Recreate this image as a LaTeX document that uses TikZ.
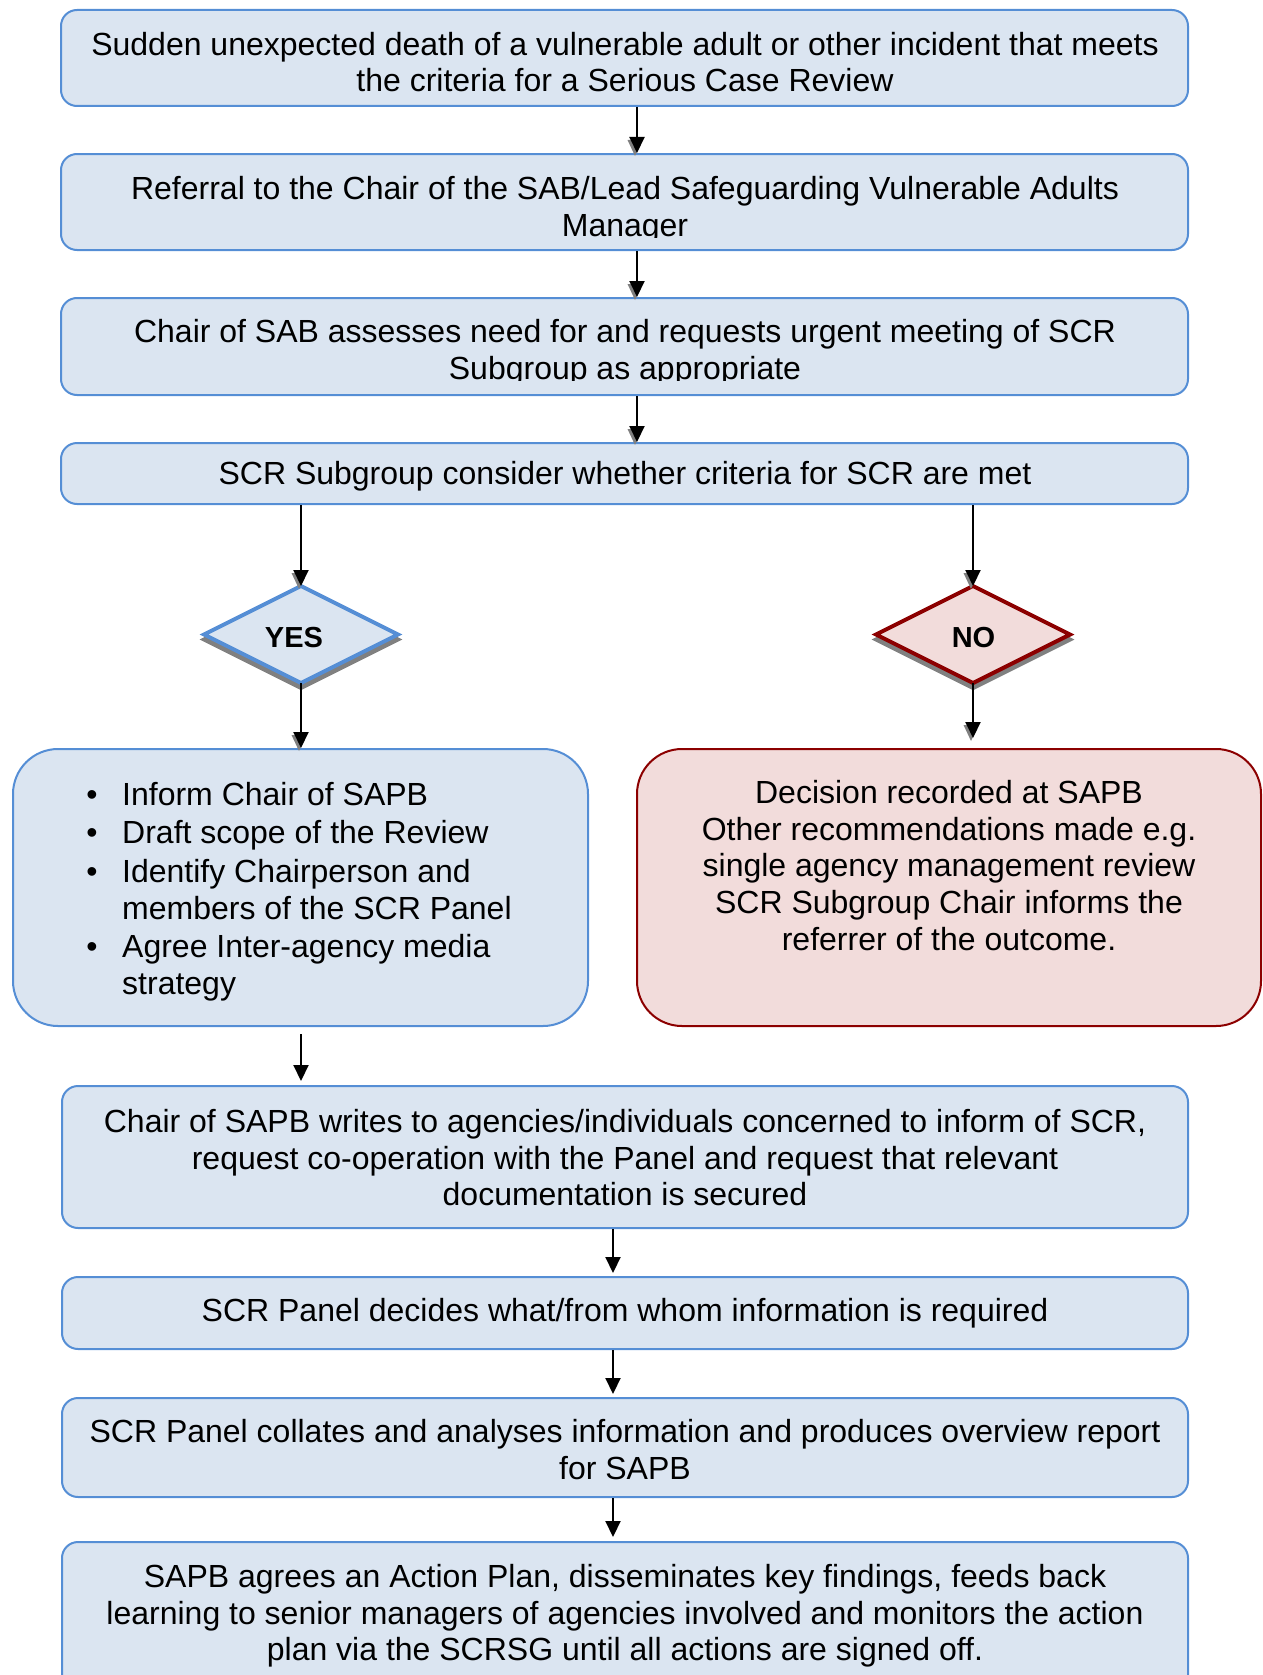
\documentclass[tikz,border=0pt]{standalone}
\usepackage{fontspec}
\setmainfont{Liberation Sans}
\usetikzlibrary{arrows.meta,shapes.geometric,shadows,calc}
\definecolor{bfill}{RGB}{219,229,241}
\definecolor{bline}{RGB}{85,142,213}
\definecolor{rfill}{RGB}{242,220,219}
\definecolor{rline}{RGB}{140,0,0}
\definecolor{shd}{RGB}{128,128,128}
\newcommand{\fr}{\rule{0pt}{26pt}}
\newcommand{\tipshadow}[1]{\fill[shd] ($(#1)+(-2,3)$) -- ++(-7.5,-16) -- ++(15,0) -- cycle;}
\begin{document}
\begin{tikzpicture}[x=1pt,y=-1pt,
  bbox/.style={draw=bline, fill=bfill, line width=2pt, rounded corners=16pt, inner sep=0pt},
  lbox/.style={draw=bline, fill=bfill, line width=2pt, rounded corners=45pt, inner sep=0pt},
  rbox/.style={draw=rline, fill=rfill, line width=2pt, rounded corners=45pt, inner sep=0pt},
  dia/.style={diamond, line width=4pt, inner sep=0pt, outer sep=0pt,
    minimum width=194pt, minimum height=97pt,
    drop shadow={shadow xshift=0pt, shadow yshift=-5pt, fill=shd, draw=shd, line width=4pt, opacity=1}},
  tx/.style={inner sep=0pt, anchor=north, align=center, font=\fontsize{32}{36.8}\selectfont},
  lt/.style={inner sep=0pt, anchor=north west, align=left, font=\fontsize{32}{36.8}\selectfont},
  bul/.style={inner sep=0pt, anchor=north, font=\fontsize{32}{36.8}\selectfont},
  dtx/.style={inner sep=0pt, anchor=base, font=\fontsize{29}{34}\selectfont\bfseries},
  arr/.style={line width=2pt, -{Triangle[width=15pt,length=16pt]}}
]
\useasboundingbox (0,0) rectangle (1262,1675);
\clip (0,0) rectangle (1262,1675);

% boxes
\node[bbox, minimum width=1127pt, minimum height=96pt] (b1) at (624.5,58) {};
\node[bbox, minimum width=1127pt, minimum height=96pt] (b2) at (624.5,202) {};
\node[bbox, minimum width=1127pt, minimum height=97pt] (b3) at (624.5,346.5) {};
\node[bbox, minimum width=1127pt, minimum height=61pt] (b4) at (624.5,473.5) {};
\node[dia, draw=bline, fill=bfill] (yes) at (301,634.5) {};
\node[dia, draw=rline, fill=rfill] (no) at (973,634.5) {};
\node[lbox, minimum width=575pt, minimum height=277pt] (L) at (300.5,887.5) {};
\node[rbox, minimum width=624pt, minimum height=277pt] (R) at (949,887.5) {};
\node[bbox, minimum width=1126pt, minimum height=142pt] (b5) at (625,1157) {};
\node[bbox, minimum width=1126pt, minimum height=72pt] (b6) at (625,1313) {};
\node[bbox, minimum width=1126pt, minimum height=99pt] (b7) at (625,1447.5) {};
\node[bbox, minimum width=1126pt, minimum height=178pt] (b8) at (625,1631) {};

% texts
\node[tx] (t1) at (625,29) {\fr Sudden unexpected death of a vulnerable adult or other incident that meets\\the criteria for a Serious Case Review};
\begin{scope}
\clip (61,154) rectangle (1188,237.5);
\node[tx] (t2) at (625,173) {\fr Referral to the Chair of the SAB/Lead Safeguarding Vulnerable Adults\\Manager};
\end{scope}
\begin{scope}
\clip (61,298) rectangle (1188,380.5);
\node[tx] (t3) at (625,316) {\fr Chair of SAB assesses need for and requests urgent meeting of SCR\\Subgroup as appropriate};
\end{scope}
\node[tx] (t4) at (625,458) {\fr SCR Subgroup consider whether criteria for SCR are met};
\node[dtx] (ty) at (294,647) {YES};
\node[dtx] (tn) at (973.5,647) {NO};

\node[bul] (u1) at (92,779) {\fr\textbullet};
\node[bul] (u2) at (92,817) {\fr\textbullet};
\node[bul] (u3) at (92,856) {\fr\textbullet};
\node[bul] (u4) at (92,931) {\fr\textbullet};
\node[lt] (l1) at (122,779) {\fr Inform Chair of SAPB};
\node[lt] (l2) at (122,817) {\fr Draft scope of the Review};
\node[lt] (l3) at (122,856) {\fr Identify Chairperson and\\members of the SCR Panel};
\node[lt] (l4) at (122,931) {\fr Agree Inter-agency media\\strategy};

\node[tx] (tr) at (949,777) {\fr Decision recorded at SAPB\\Other recommendations made e.g.\\single agency management review\\SCR Subgroup Chair informs the\\referrer of the outcome.};

\node[tx] (t5) at (625,1106) {\fr Chair of SAPB writes to agencies/individuals concerned to inform of SCR,\\request co-operation with the Panel and request that relevant\\documentation is secured};
\node[tx] (t6) at (625,1295) {\fr SCR Panel decides what/from whom information is required};
\node[tx] (t7) at (625,1416) {\fr SCR Panel collates and analyses information and produces overview report\\for SAPB};
\node[tx] (t8) at (625,1561) {\fr SAPB agrees an Action Plan, disseminates key findings, feeds back\\learning to senior managers of agencies involved and monitors the action\\plan via the SCRSG until all actions are signed off.};

% connector helpers
\coordinate (cx) at (637,0);
\coordinate (lx) at (301,0);
\coordinate (rx) at (973,0);
\coordinate (mx) at (613,0);
\coordinate (notip) at (973,738);

% arrowhead shadows
\tipshadow{b2.north -| cx}
\tipshadow{b3.north -| cx}
\tipshadow{b4.north -| cx}
\tipshadow{yes.north}
\tipshadow{no.north}
\tipshadow{L.north -| lx}
\tipshadow{notip}

% connectors
\draw[arr] (b1.south -| cx) -- (b2.north -| cx);
\draw[arr] (b2.south -| cx) -- (b3.north -| cx);
\draw[arr] (b3.south -| cx) -- (b4.north -| cx);
\draw[arr] (b4.south -| lx) -- (yes.north);
\draw[arr] (b4.south -| rx) -- (no.north);
\draw[arr] (yes.south) -- (L.north -| lx);
\draw[arr] (no.south) -- (notip);
\draw[arr] ($(L.south -| lx)+(0,7)$) -- ($(b5.north -| lx)+(0,-4)$);
\draw[arr] (b5.south -| mx) -- ($(b6.north -| mx)+(0,-3)$);
\draw[arr] (b6.south -| mx) -- ($(b7.north -| mx)+(0,-3)$);
\draw[arr] (b7.south -| mx) -- ($(b8.north -| mx)+(0,-4)$);
\end{tikzpicture}
\end{document}
